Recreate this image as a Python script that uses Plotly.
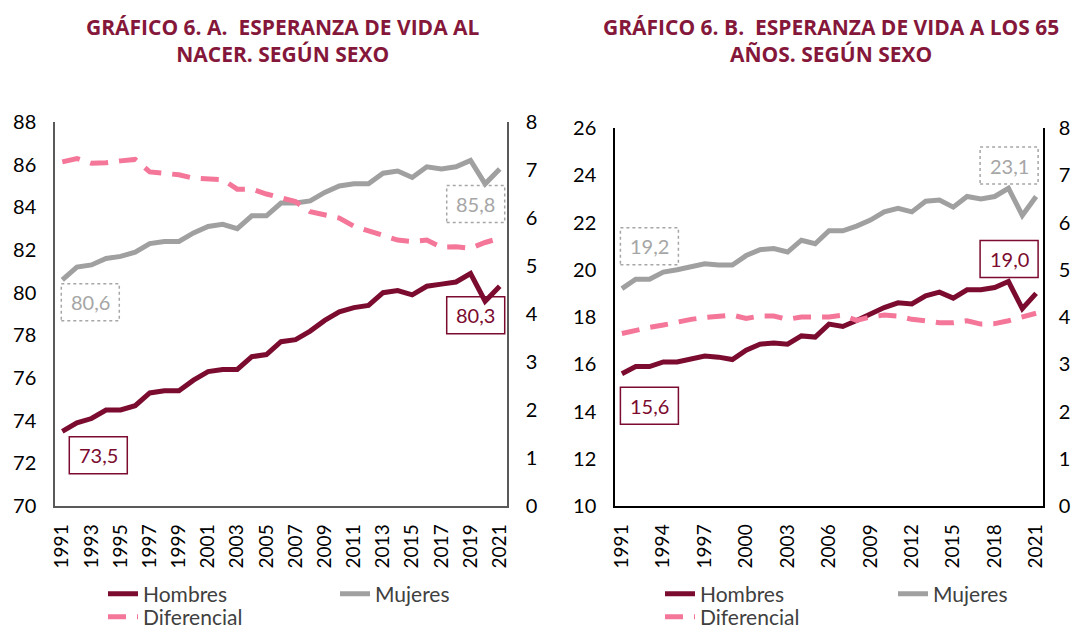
import plotly.graph_objects as go

# ---------------- data ----------------
years = list(range(1991, 2022))

# Gráfico 6.A - esperanza de vida al nacer
hombres_nacer = [73.5, 73.9, 74.1, 74.5, 74.5, 74.7, 75.3, 75.4, 75.4, 75.9, 76.3,
                 76.4, 76.4, 77.0, 77.1, 77.7, 77.8, 78.2, 78.7, 79.1, 79.3, 79.4,
                 80.0, 80.1, 79.9, 80.3, 80.4, 80.5, 80.9, 79.6, 80.3]
mujeres_nacer = [80.6, 81.2, 81.3, 81.6, 81.7, 81.9, 82.3, 82.4, 82.4, 82.8, 83.1,
                 83.2, 83.0, 83.6, 83.6, 84.2, 84.2, 84.3, 84.7, 85.0, 85.1, 85.1,
                 85.6, 85.7, 85.4, 85.9, 85.8, 85.9, 86.2, 85.1, 85.8]
dif_nacer = [7.17, 7.24, 7.14, 7.15, 7.19, 7.22, 6.96, 6.92, 6.90, 6.83, 6.81,
             6.80, 6.60, 6.60, 6.50, 6.43, 6.34, 6.13, 6.06, 6.00, 5.83, 5.73,
             5.63, 5.54, 5.51, 5.54, 5.39, 5.40, 5.37, 5.49, 5.58]

# Gráfico 6.B - esperanza de vida a los 65 años
hombres_65 = [15.6, 15.9, 15.9, 16.1, 16.1, 16.2, 16.35, 16.3, 16.2, 16.6, 16.85,
              16.9, 16.85, 17.2, 17.15, 17.7, 17.6, 17.85, 18.15, 18.4, 18.6, 18.55,
              18.9, 19.05, 18.8, 19.15, 19.15, 19.25, 19.5, 18.35, 19.0]
mujeres_65 = [19.2, 19.6, 19.6, 19.9, 20.0, 20.1, 20.25, 20.2, 20.2, 20.6, 20.85,
              20.9, 20.75, 21.25, 21.1, 21.65, 21.65, 21.85, 22.1, 22.45, 22.6, 22.45,
              22.9, 22.95, 22.65, 23.1, 23.0, 23.1, 23.45, 22.3, 23.1]
dif_65 = [3.65, 3.72, 3.78, 3.83, 3.90, 3.95, 3.99, 4.02, 4.04, 3.97, 4.02,
          4.02, 3.95, 4.00, 3.99, 4.00, 4.04, 3.93, 4.00, 4.04, 4.02, 3.95,
          3.92, 3.88, 3.88, 3.92, 3.85, 3.86, 3.92, 4.00, 4.08]

ticks_a = years[::2]
ticks_b = years[::3]
series_names = ["Hombres", "Mujeres", "Diferencial"]
title_a = "GRÁFICO 6. A.  ESPERANZA DE VIDA AL<br>NACER. SEGÚN SEXO"
title_b = "GRÁFICO 6. B.  ESPERANZA DE VIDA A LOS 65<br>AÑOS. SEGÚN SEXO"

# ---------------- style ----------------
C_MEN = "#7B0B2F"
C_WOMEN = "#A0A0A0"
C_DIF = "#F4779A"
C_TITLE = "#84173A"
C_LABEL_GRAY = "#A6A6A6"
FONT = "Lato"
DASH = "18px,11px"

# the page body adds an 8px margin on every side; size the figure so the page
# does not overflow the 1080x637 window and place things in window pixels
OFF = 8
W, H = 1080 - 2 * OFF, 637 - 2 * OFF


def px(x):
    return (x - OFF) / W


def py(y):
    return 1 - (y - OFF) / H


fig = go.Figure()


def add_chart(xa, ya, ya2, men, women, dif, leg_men, leg_women, leg_dif):
    fig.add_trace(go.Scatter(x=years, y=men, name=series_names[0], mode="lines",
                             line=dict(color=C_MEN, width=5), xaxis=xa, yaxis=ya,
                             legend=leg_men))
    fig.add_trace(go.Scatter(x=years, y=women, name=series_names[1], mode="lines",
                             line=dict(color=C_WOMEN, width=5), xaxis=xa, yaxis=ya,
                             legend=leg_women))
    fig.add_trace(go.Scatter(x=years, y=dif, name=series_names[2], mode="lines",
                             line=dict(color=C_DIF, width=5, dash=DASH), xaxis=xa,
                             yaxis=ya2, legend=leg_dif))


add_chart("x", "y", "y2", hombres_nacer, mujeres_nacer, dif_nacer,
          "legend", "legend2", "legend3")
add_chart("x2", "y3", "y4", hombres_65, mujeres_65, dif_65,
          "legend4", "legend5", "legend6")


def fmt(v):
    return f"{v:.1f}".replace(".", ",")


def label_box(xref, yref, xv, yv, dx, dy, color, dotted):
    fig.add_shape(type="rect", xref=xref, yref=yref, xsizemode="pixel",
                  ysizemode="pixel", xanchor=xv, yanchor=yv,
                  x0=dx - 29, x1=dx + 29, y0=dy - 18.5, y1=dy + 18.5,
                  line=dict(color="#A6A6A6" if dotted else color, width=1.5,
                            dash="dot" if dotted else "solid"),
                  fillcolor="rgba(0,0,0,0)")
    fig.add_annotation(xref=xref, yref=yref, x=xv, y=yv, text=fmt(yv),
                       showarrow=False, xshift=dx, yshift=dy,
                       font=dict(family=FONT, size=20, color=color))


# chart A labels
label_box("x", "y", years[0], mujeres_nacer[0], 28, -22.5, C_LABEL_GRAY, True)
label_box("x", "y", years[0], hombres_nacer[0], 36, -24, C_MEN, False)
label_box("x", "y", years[-1], mujeres_nacer[-1], -24, -35, C_LABEL_GRAY, True)
label_box("x", "y", years[-1], hombres_nacer[-1], -24, -29, C_MEN, False)
# chart B labels
label_box("x2", "y3", years[0], mujeres_65[0], 27.5, 42.5, C_LABEL_GRAY, True)
label_box("x2", "y3", years[-1], mujeres_65[-1], -27, 31, C_LABEL_GRAY, True)
label_box("x2", "y3", years[-1], hombres_65[-1], -27, 34.5, C_MEN, False)
label_box("x2", "y3", years[0], hombres_65[0], 27.5, -32, C_MEN, False)

# titles
for txt, xc in [(title_a, 283), (title_b, 831)]:
    fig.add_annotation(xref="paper", yref="paper", x=px(xc), y=py(40),
                       text=f"<b>{txt}</b>", showarrow=False, xanchor="center",
                       yanchor="middle", align="center",
                       font=dict(family="Open Sans", size=21, color=C_TITLE))

tickfont = dict(family=FONT, size=20, color="#000000")
xtickfont = dict(family=FONT, size=19, color="#000000")


def xaxis_cfg(domain, tickvals, anchor, lc):
    return dict(domain=domain, range=[1990.5, 2021.5], tickmode="array",
                tickvals=tickvals, ticktext=[str(t) for t in tickvals],
                tickangle=-90, showgrid=False, zeroline=False, showline=True,
                linecolor=lc, linewidth=1.5, ticks="", tickfont=xtickfont,
                anchor=anchor, ticklabelstandoff=9)


def yaxis_cfg(domain, rng, dtick, anchor, lc, side="left", overlaying=None,
              standoff=13):
    d = dict(domain=domain, range=rng, dtick=dtick, tick0=rng[0],
             showgrid=False, zeroline=False, showline=True, linecolor=lc,
             linewidth=1.5, ticks="", tickfont=tickfont, anchor=anchor,
             side=side, ticklabelstandoff=standoff)
    if overlaying:
        d["overlaying"] = overlaying
    return d


ydom_a = [py(506), py(122)]
ydom_b = [py(506), py(128)]
LC_A = "#595959"
LC_B = "#000000"


def leg(x, y):
    return dict(x=px(x), y=py(y), xanchor="left", yanchor="middle", orientation="h",
                font=dict(family=FONT, size=21, color="#404040"),
                bgcolor="rgba(0,0,0,0)", itemwidth=30)


ROW1, ROW2 = 594, 617

fig.update_layout(
    width=W, height=H,
    margin=dict(l=0, r=0, t=0, b=0, autoexpand=False),
    paper_bgcolor="white", plot_bgcolor="white",
    xaxis=xaxis_cfg([px(55), px(507)], ticks_a, "y", LC_A),
    yaxis=yaxis_cfg(ydom_a, [70, 88], 2, "x", LC_A),
    yaxis2=yaxis_cfg(ydom_a, [0, 8], 1, "x", LC_A, side="right", overlaying="y"),
    xaxis2=xaxis_cfg([px(615), px(1043)], ticks_b, "y3", LC_B),
    yaxis3=yaxis_cfg(ydom_b, [10, 26], 2, "x2", LC_B),
    yaxis4=yaxis_cfg(ydom_b, [0, 8], 1, "x2", LC_B, side="right", overlaying="y3",
                     standoff=10),
    legend=leg(103, ROW1),
    legend2=leg(335, ROW1),
    legend3=leg(103, ROW2),
    legend4=leg(660, ROW1),
    legend5=leg(893, ROW1),
    legend6=leg(660, ROW2),
    showlegend=True,
)

fig.write_html("out.html")
